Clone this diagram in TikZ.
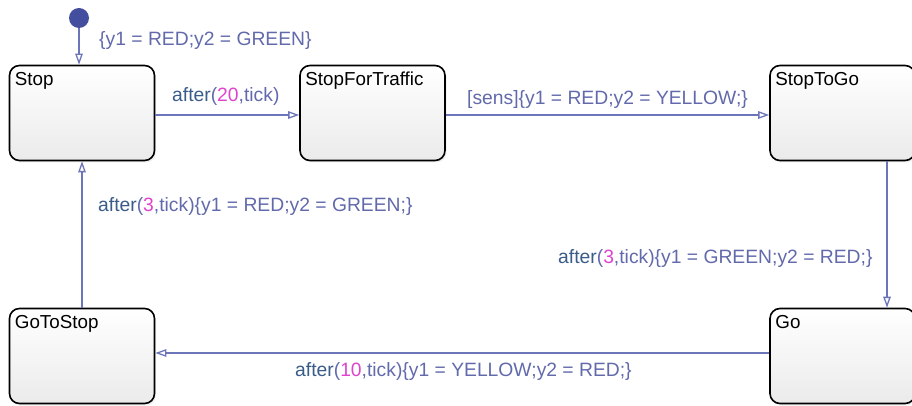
\documentclass[tikz,border=0pt]{standalone}
\usepackage{fontspec}
\setmainfont{Liberation Sans}
\usetikzlibrary{arrows.meta,shadows}
\definecolor{conn}{RGB}{108,116,186}
\definecolor{lbltxt}{RGB}{98,106,172}
\definecolor{kw}{RGB}{58,92,138}
\definecolor{num}{RGB}{222,68,206}
\definecolor{dotc}{RGB}{68,78,158}
\tikzset{
  statebox/.style={draw=black, line width=1.6pt, rounded corners=10pt,
    minimum width=145pt, minimum height=95pt, inner sep=0pt,
    top color=white, bottom color=black!8,
    drop shadow={opacity=0.12, shadow xshift=1.5pt, shadow yshift=-2pt}},
  sname/.style={anchor=base west, inner sep=0pt, text=black, font=\fontsize{18.8}{20}\selectfont},
  lbl/.style={anchor=west, inner sep=0pt, text=lbltxt, font=\fontsize{19.3}{21}\selectfont},
  trans/.style={draw=conn, line width=1.3pt, -{Triangle[open, length=11pt, width=7.5pt]}}
}
\newcommand{\kwa}{\textcolor{kw}{after}}
\newcommand{\nm}[1]{\textcolor{num}{#1}}
\begin{document}
\begin{tikzpicture}[x=1pt,y=-1pt]
\useasboundingbox (0,0) rectangle (912,406);
\clip (0,0) rectangle (912,406);
\fill[white] (0,0) rectangle (912,406);
% states
\node[statebox] (Stop) at (82,113) {};
\node[statebox] (SFT) at (372.5,113) {};
\node[statebox] (STG) at (842.5,113) {};
\node[statebox] (Go) at (842.5,356) {};
\node[statebox] (GTS) at (82,356) {};
\node[sname] (nStop) at ([xshift=6pt,yshift=-21pt]Stop.north west) {Stop};
\node[sname] (nSFT) at ([xshift=6pt,yshift=-21pt]SFT.north west) {StopForTraffic};
\node[sname] (nSTG) at ([xshift=6pt,yshift=-21pt]STG.north west) {StopToGo};
\node[sname] (nGo) at ([xshift=6pt,yshift=-21pt]Go.north west) {Go};
\node[sname] (nGTS) at ([xshift=6pt,yshift=-21pt]GTS.north west) {GoToStop};
% initial
\node[circle, fill=dotc, minimum size=20pt, inner sep=0pt] (init) at (79,18) {};
\draw[trans] (init) -- ([xshift=-3pt]Stop.north);
% transitions
\draw[trans] ([yshift=-2pt]Stop.east) -- ([yshift=-2pt]SFT.west);
\draw[trans] ([yshift=-2pt]SFT.east) -- ([yshift=-2pt]STG.west);
\draw[trans] ([xshift=44.5pt]STG.south) -- ([xshift=44.5pt]Go.north);
\draw[trans] ([yshift=3pt]Go.west) -- ([yshift=3pt]GTS.east);
\draw[trans] (GTS.north) -- (Stop.south);
% labels
\node[lbl] (l0) at (99,41) {\{y1 = RED;y2 = GREEN\}};
\node[lbl] (l1) at (172,97) {\kwa(\nm{20},tick)};
\node[lbl] (l2) at (467,100) {[sens]\{y1 = RED;y2 = YELLOW;\}};
\node[lbl] (l3) at (558,259) {\kwa(\nm{3},tick)\{y1 = GREEN;y2 = RED;\}};
\node[lbl] (l4) at (98,207) {\kwa(\nm{3},tick)\{y1 = RED;y2 = GREEN;\}};
\node[lbl] (l5) at (295,372) {\kwa(\nm{10},tick)\{y1 = YELLOW;y2 = RED;\}};
\end{tikzpicture}
\end{document}
